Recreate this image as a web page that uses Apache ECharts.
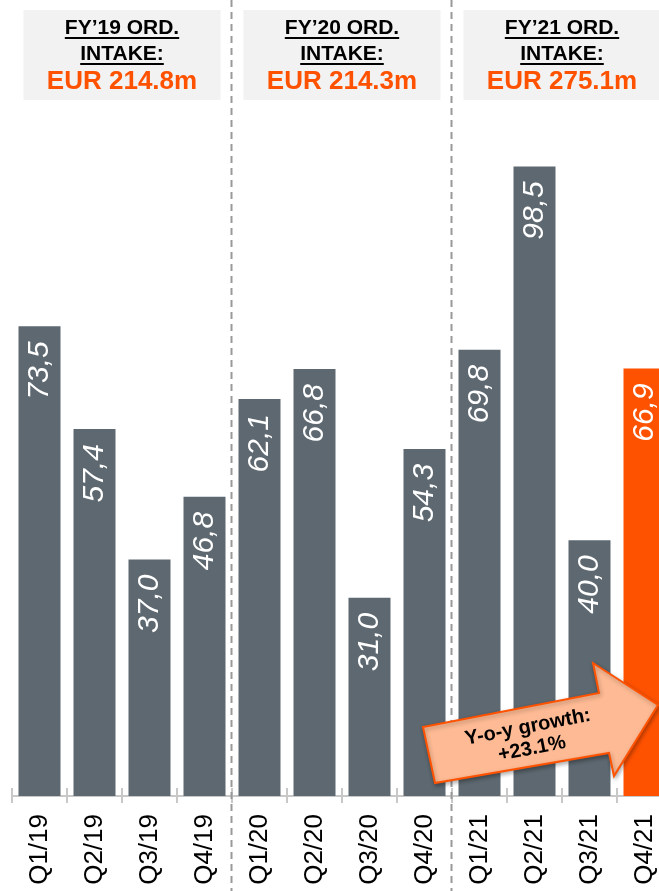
<!DOCTYPE html>
<html>
<head>
<meta charset="utf-8">
<script src="https://cdn.jsdelivr.net/npm/echarts@6/dist/echarts.min.js"></script>
<style>
  html, body { margin: 0; padding: 0; background: #fff; overflow: hidden; }
  /* wider than the window: the last quarter runs past the right edge, as in the slide */
  #chart { width: 672px; height: 891px; }
</style>
</head>
<body>
<div id="chart"></div>
<script>
const quarters = ['Q1/19', 'Q2/19', 'Q3/19', 'Q4/19', 'Q1/20', 'Q2/20', 'Q3/20', 'Q4/20', 'Q1/21', 'Q2/21', 'Q3/21', 'Q4/21'];
const orderIntake = [73.5, 57.4, 37.0, 46.8, 62.1, 66.8, 31.0, 54.3, 69.8, 98.5, 40.0, 66.9];
const highlightIndex = 11;
const yearTitles = ['FY’19 ORD.', 'FY’20 ORD.', 'FY’21 ORD.'];
const yearSubtitle = 'INTAKE:';
const yearTotals = ['EUR 214.8m', 'EUR 214.3m', 'EUR 275.1m'];
const growthText = ['Y-o-y growth:', '+23.1%'];

const GRAY = '#5d6870';
const ORANGE = '#ff5200';
const FONT = '"Liberation Sans", Arial, sans-serif';

const chartDom = document.getElementById('chart');
const myChart = echarts.init(chartDom);

const option = {
    animation: false,
    grid: { left: 12, right: 0, top: 29, bottom: 95, outerBoundsMode: 'none' },
    xAxis: [{
        type: 'category',
        data: quarters,
        position: 'bottom',
        axisLine: { lineStyle: { color: '#c8c8c8', width: 2 } },
        axisTick: { show: true, length: 7, lineStyle: { color: '#c8c8c8', width: 2 } },
        axisLabel: {
            interval: 0,
            rotate: 90,
            margin: 18,
            fontSize: 26,
            color: '#000',
            fontFamily: FONT
        }
    }, {
        // inner half of the ticks that cross the axis line
        type: 'category',
        data: quarters,
        position: 'bottom',
        axisLine: { show: false },
        axisTick: { show: true, inside: true, length: 8, lineStyle: { color: '#c8c8c8', width: 2 } },
        axisLabel: { show: false }
    }],
    yAxis: {
        type: 'value',
        min: 0,
        max: 120,
        show: false
    },
    series: [{
        type: 'bar',
        barWidth: 42,
        data: orderIntake.map((v, i) => ({
            value: v,
            itemStyle: { color: i === highlightIndex ? ORANGE : GRAY }
        })),
        label: {
            show: true,
            position: 'insideTop',
            distance: 15,
            rotate: 90,
            align: 'right',
            verticalAlign: 'middle',
            color: '#fff',
            fontSize: 30,
            fontStyle: 'italic',
            fontFamily: FONT,
            formatter: p => p.value.toFixed(1).replace('.', ',')
        }
    }]
};

myChart.setOption(option);

// measure text for the underlines
const measureCtx = document.createElement('canvas').getContext('2d');
function textWidth(text, font) {
    measureCtx.font = font;
    return measureCtx.measureText(text).width;
}

function drawDecorations() {
    const px = i => myChart.convertToPixel({ xAxisIndex: 0 }, quarters[i]);
    const band = px(1) - px(0);
    const graphics = [];

    // dashed separators between the years
    [4, 8].forEach(i => {
        const x = Math.round(px(i) - band / 2) - 0.5;
        graphics.push({
            type: 'line',
            z: 1,
            shape: { x1: x, y1: 0, x2: x, y2: 891 },
            style: { stroke: '#999', lineWidth: 2, lineDash: [7, 5] }
        });
    });

    // year headers
    const titleFont = 'bold 21px ' + FONT;
    const totalFont = 'bold 26px ' + FONT;
    yearTitles.forEach((title, g) => {
        const left = px(g * 4) - band / 2;
        const right = px(g * 4 + 3) + band / 2;
        const cx = (left + right) / 2;
        graphics.push({
            type: 'rect',
            z: 5,
            shape: { x: cx - 98.5, y: 10, width: 197, height: 90 },
            style: { fill: '#f2f2f2' }
        });
        [[title, 28], [yearSubtitle, 54]].forEach(([t, y]) => {
            const w = textWidth(t, titleFont);
            graphics.push({
                type: 'text',
                z: 6,
                x: cx, y: y,
                style: {
                    text: t, font: titleFont, fill: '#000',
                    align: 'center', verticalAlign: 'middle'
                }
            });
            graphics.push({
                type: 'line',
                z: 6,
                shape: { x1: cx - w / 2, y1: y + 10, x2: cx + w / 2, y2: y + 10 },
                style: { stroke: '#000', lineWidth: 2 }
            });
        });
        graphics.push({
            type: 'text',
            z: 6,
            x: cx, y: 82,
            style: {
                text: yearTotals[g], font: totalFont, fill: ORANGE,
                align: 'center', verticalAlign: 'middle'
            }
        });
    });

    // growth arrow
    graphics.push({
        type: 'polygon',
        z: 10,
        shape: {
            points: [[423, 727], [599, 693], [593, 663], [658, 705], [614, 776], [609, 753], [435, 783]]
        },
        style: {
            fill: '#fdba94', stroke: ORANGE, lineWidth: 2,
            shadowBlur: 4, shadowColor: 'rgba(0,0,0,0.3)', shadowOffsetX: 1, shadowOffsetY: 2
        }
    });
    graphics.push({
        type: 'text',
        z: 11,
        x: 530, y: 738,
        rotation: 11 * Math.PI / 180,
        style: {
            text: growthText.join('\n'),
            font: 'bold 20px ' + FONT,
            lineHeight: 22,
            fill: '#000',
            align: 'center',
            verticalAlign: 'middle'
        }
    });

    myChart.setOption({ graphic: graphics });
}

drawDecorations();
window.addEventListener('resize', () => myChart.resize());
</script>
</body>
</html>
